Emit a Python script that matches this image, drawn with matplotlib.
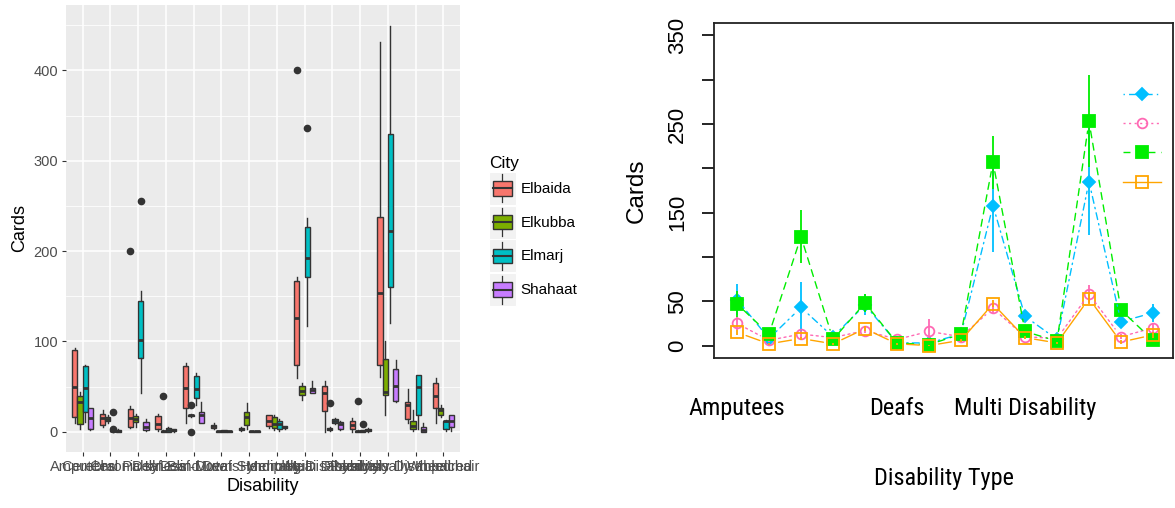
import numpy as np
import matplotlib
matplotlib.use("Agg")
import matplotlib.pyplot as plt
from matplotlib import font_manager
from matplotlib.patches import Rectangle
from matplotlib.lines import Line2D
from matplotlib.legend_handler import HandlerBase

disability = ['Amputees', 'Cerebral Palsy', 'Chronic Illness', 'Deaf-Blind', 'Deaf-Mute', 'Deafs',
              'Down Syndrome', 'Hemiplegia', 'Mentally Disabled', 'Multi Disability', 'Paralysis',
              'Physically Disabled', 'Visually Impaired', 'Wheelchair']
cities = ['Elbaida', 'Elkubba', 'Elmarj', 'Shahaat']
city_fill = ['#F8766D', '#7CAE00', '#00BFC4', '#C77CFF']

# box statistics
elbaida_q1 = [16, 7, 5, 3, 26, 4, 2, 6, 74, 23, 2.5, 74, 14, 26]
elbaida_med = [50, 15, 15, 9, 48, 6, 3, 12, 126, 43, 7, 154, 30, 39]
elbaida_q3 = [90, 20, 25, 17, 73, 7, 4, 18, 167, 51, 11.5, 238, 33, 54]
elbaida_lo = [10, 5, 4, 1, 10, 3, 1, 4, 60, 0, 0, 61, 10, 10]
elbaida_hi = [93, 24, 28, 20, 76, 10, 5, 19, 171, 56, 15, 431, 47, 60]

elkubba_q1 = [9, 12, 11, 0, 17, 0, 7, 4, 41, 2, 0, 41, 3, 19]
elkubba_med = [33, 14, 14, 1, 18, 0.5, 16, 8, 45, 3, 0.5, 44, 6, 24]
elkubba_q3 = [40, 16, 17, 1, 19, 1, 22, 16, 51, 4, 1, 80, 12, 26]
elkubba_lo = [3, 10, 5, 0, 16, 0, 3, 2, 35, 1, 0, 19, 1, 16]
elkubba_hi = [44, 18, 20, 2, 20, 1, 32, 18, 54, 5, 2, 100, 24, 30]

elmarj_q1 = [22, 0.5, 82, 0, 37, 0, 0, 3, 171, 10, 0, 160, 19, 3]
elmarj_med = [48, 1, 101, 2, 47, 1, 0.5, 9, 192, 12, 1, 222, 50, 12]
elmarj_q3 = [73, 1.5, 145, 4, 62, 1.5, 1, 12, 227, 14, 2, 330, 63, 12]
elmarj_lo = [11, 0, 43, 0, 29, 0, 0, 1, 117, 9, 0, 120, 3, 1]
elmarj_hi = [74, 2, 156, 5, 65, 2, 1, 14, 237, 15, 2, 449, 63, 13]

shahaat_q1 = [3, 0, 2, 1, 10, 0, 0, 4, 43, 3, 1, 34, 0, 5]
shahaat_med = [15, 1, 5, 2, 19, 1, 0.5, 5, 46, 9, 2, 51, 2, 12]
shahaat_q3 = [26, 2, 11, 3, 22, 1, 1, 6, 48, 11, 3, 69, 5, 19]
shahaat_lo = [2, 0, 1, 0, 10, 0, 0, 3, 43, 2, 0, 33, 0, 1]
shahaat_hi = [26, 3, 14, 3, 33, 1, 1, 6, 56, 12, 4, 79, 10, 19]

outlier_city = ['Elbaida', 'Elbaida', 'Elkubba', 'Elkubba', 'Elkubba', 'Elkubba', 'Elkubba',
                'Elmarj', 'Elmarj', 'Elmarj', 'Elmarj', 'Elmarj']
outlier_cat = [3, 9, 4, 5, 5, 10, 11, 2, 2, 3, 9, 11]
outlier_val = [200, 400, 40, 30, 0, 32, 34, 22, 3, 256, 336, 9]

# means and error bars
mean_elbaida = [52, 8, 43, 10, 46, 3, 3, 13, 158, 33, 7, 185, 27, 37]
ci_elbaida = [17, 3, 29, 3, 12, 2, 2, 4, 52, 6, 3, 60, 5, 10]
mean_elkubba = [25, 6, 13, 9, 17, 7, 16, 10, 42, 10, 8, 58, 10, 20]
ci_elkubba = [7, 2, 4, 2, 3, 2, 14, 3, 5, 3, 2, 10, 3, 5]
mean_elmarj = [47, 13, 123, 7, 48, 3, 1, 13, 207, 16, 5, 253, 40, 6]
ci_elmarj = [15, 4, 30, 3, 10, 2, 1, 3, 30, 4, 2, 52, 5, 3]
mean_shahaat = [15, 2, 8, 2, 19, 2, 0, 6, 47, 9, 3, 53, 4, 12]
ci_shahaat = [3, 1, 2, 1, 3, 1, 1, 2, 4, 2, 1, 6, 2, 3]
shown_labels = [1, 6, 10]

box_table = {
    'Elbaida': (elbaida_q1, elbaida_med, elbaida_q3, elbaida_lo, elbaida_hi),
    'Elkubba': (elkubba_q1, elkubba_med, elkubba_q3, elkubba_lo, elkubba_hi),
    'Elmarj': (elmarj_q1, elmarj_med, elmarj_q3, elmarj_lo, elmarj_hi),
    'Shahaat': (shahaat_q1, shahaat_med, shahaat_q3, shahaat_lo, shahaat_hi),
}


def has_font(name):
    try:
        font_manager.findfont(font_manager.FontProperties(family=name), fallback_to_default=False)
        return True
    except ValueError:
        return False


# the right panel was squeezed sideways, so horizontal text there looks narrow
narrow = None
for cand in ['Liberation Sans Narrow', 'Arial Narrow', 'Roboto Condensed', 'DejaVu Sans Condensed']:
    if has_font(cand):
        narrow = cand
        break
if narrow is None:
    narrow_family, narrow_size = ['Liberation Sans', 'DejaVu Sans'], 14.5
else:
    narrow_family, narrow_size = [narrow, 'DejaVu Sans'], 17.5

W, H = 1175, 508
fig = plt.figure(figsize=(W / 100, H / 100), dpi=100)
plt.rcParams['font.family'] = ['Liberation Sans', 'DejaVu Sans']

# ---------------- left: ggplot style boxplot ----------------
ax1 = fig.add_axes([66 / W, 56 / H, 394 / W, 447 / H])
ax1.set_facecolor('#EBEBEB')
for s in ax1.spines.values():
    s.set_visible(False)

pos = np.arange(1, len(disability) + 1)
dodge = [-0.28125, -0.09375, 0.09375, 0.28125]
edge = '#333333'

for j, city in enumerate(cities):
    q1, med, q3, lo, hi = box_table[city]
    stats = []
    for i in range(len(disability)):
        fl = [v for c, k, v in zip(outlier_city, outlier_cat, outlier_val) if c == city and k == i + 1]
        stats.append(dict(q1=q1[i], med=med[i], q3=q3[i], whislo=lo[i], whishi=hi[i], fliers=fl))
    ax1.bxp(stats, positions=pos + dodge[j], widths=0.1875, patch_artist=True,
            showcaps=False, manage_ticks=False, zorder=3,
            boxprops=dict(facecolor=city_fill[j], edgecolor=edge, linewidth=1.0),
            medianprops=dict(color=edge, linewidth=2.0),
            whiskerprops=dict(color=edge, linewidth=1.0),
            flierprops=dict(marker='o', markerfacecolor=edge, markeredgecolor=edge, markersize=4.5))

ax1.set_xlim(0.4, len(disability) + 0.6)
ax1.set_ylim(-22.5, 472.5)
ax1.set_yticks([0, 100, 200, 300, 400])
ax1.set_yticks([50, 150, 250, 350, 450], minor=True)
ax1.set_xticks(pos)
ax1.set_xticklabels(disability)
ax1.grid(which='major', color='white', linewidth=1.1, zorder=0)
ax1.grid(which='minor', axis='y', color='white', linewidth=0.55, zorder=0)
ax1.set_axisbelow(True)
ax1.tick_params(which='major', color=edge, length=2.75, width=0.8, labelcolor='#4D4D4D',
                labelsize=10.5, pad=3)
ax1.tick_params(which='minor', length=0)
ax1.set_xlabel('Disability', fontsize=13, labelpad=3)
ax1.set_ylabel('Cards', fontsize=13, labelpad=4)


class BoxKey(HandlerBase):
    def create_artists(self, legend, orig_handle, xdescent, ydescent, width, height, fontsize, trans):
        x0, y0 = -xdescent, -ydescent
        bg = Rectangle((x0, y0), width, height, facecolor='#F2F2F2', edgecolor='white', lw=0.8,
                       transform=trans)
        cx = x0 + width / 2
        wh = Line2D([cx, cx], [y0 + height * 0.08, y0 + height * 0.92], color=edge, lw=0.9,
                    transform=trans)
        bx = Rectangle((x0 + width * 0.15, y0 + height * 0.28), width * 0.7, height * 0.44,
                       facecolor=orig_handle.get_facecolor(), edgecolor=edge, lw=1.0, transform=trans)
        md = Line2D([x0 + width * 0.15, x0 + width * 0.85], [y0 + height / 2] * 2, color=edge, lw=1.5,
                    transform=trans)
        return [bg, wh, bx, md]


key_handles = [Rectangle((0, 0), 1, 1, facecolor=c) for c in city_fill]
leg1 = fig.legend(key_handles, cities, handler_map={Rectangle: BoxKey()},
                  loc='upper left', bbox_to_anchor=(489 / W, 1 - 156 / H), frameon=False,
                  title='City', title_fontsize=12.5, fontsize=11, alignment='left',
                  handlelength=1.75, handleheight=2.95, labelspacing=0.05, handletextpad=0.3,
                  borderpad=0, borderaxespad=0)

# ---------------- right: means with error bars ----------------
ax2 = fig.add_axes([714 / W, 150 / H, 459 / W, 335 / H])
for s in ax2.spines.values():
    s.set_linewidth(1.3)
    s.set_color('#222222')

line_styles = [
    (mean_elbaida, ci_elbaida, '#00BFFF', (0, (1, 3, 5, 3)), 'D', '#00BFFF', 6.5),
    (mean_elkubba, ci_elkubba, '#FF69B4', (0, (1.5, 2.5)), 'o', 'none', 7),
    (mean_elmarj, ci_elmarj, '#00EE00', (0, (5, 4)), 's', '#00EE00', 8),
    (mean_shahaat, ci_shahaat, '#FFA500', '-', 's', 'none', 8),
]

legend_handles = []
for means, ci, col, ls, mk, mfc, ms in line_styles:
    m = np.array(means, dtype=float)
    e = np.array(ci, dtype=float)
    for i in range(len(m) - 1):
        ax2.annotate('', xy=(pos[i + 1], m[i + 1]), xytext=(pos[i], m[i]),
                     arrowprops=dict(arrowstyle='-', color=col, linestyle=ls, linewidth=1.0,
                                     shrinkA=7, shrinkB=7))
    ax2.vlines(pos, m - e, m + e, color=col, linewidth=1.3)
    ax2.plot(pos, m, linestyle='none', marker=mk, markersize=ms, markerfacecolor=mfc,
             markeredgecolor=col, markeredgewidth=1.3)
    legend_handles.append(Line2D([], [], color=col, linestyle=ls, linewidth=1.0, marker=mk,
                                 markersize=ms, markerfacecolor=mfc, markeredgecolor=col,
                                 markeredgewidth=1.3))

ax2.legend(legend_handles, ['', '', '', ''], loc='upper left', bbox_to_anchor=(1123 / W, 1 - 88 / H),
           bbox_transform=fig.transFigure, frameon=False, fontsize=12, handlelength=2.3,
           labelspacing=0.85, handletextpad=0, borderpad=0, borderaxespad=0)

ax2.set_xlim(0.281, 14.625)
ax2.set_ylim(-14, 364)
ax2.set_yticks([0, 50, 100, 150, 200, 250, 300, 350])
ax2.set_yticklabels(['0', '50', '', '150', '', '250', '', '350'], rotation=90, va='center')
ax2.tick_params(axis='y', length=8.5, width=1.2, labelsize=16, pad=10, direction='out')
ax2.set_xticks(pos)
ax2.set_xticklabels([d if k + 1 in shown_labels else '' for k, d in enumerate(disability)],
                    family=narrow_family, fontsize=narrow_size)
ax2.tick_params(axis='x', length=0, pad=28)
ax2.set_xlabel('Disability Type', family=narrow_family, fontsize=narrow_size, labelpad=34)
ax2.set_ylabel('Cards', fontsize=17.5, labelpad=14)

fig.savefig('out.png', dpi=100)
